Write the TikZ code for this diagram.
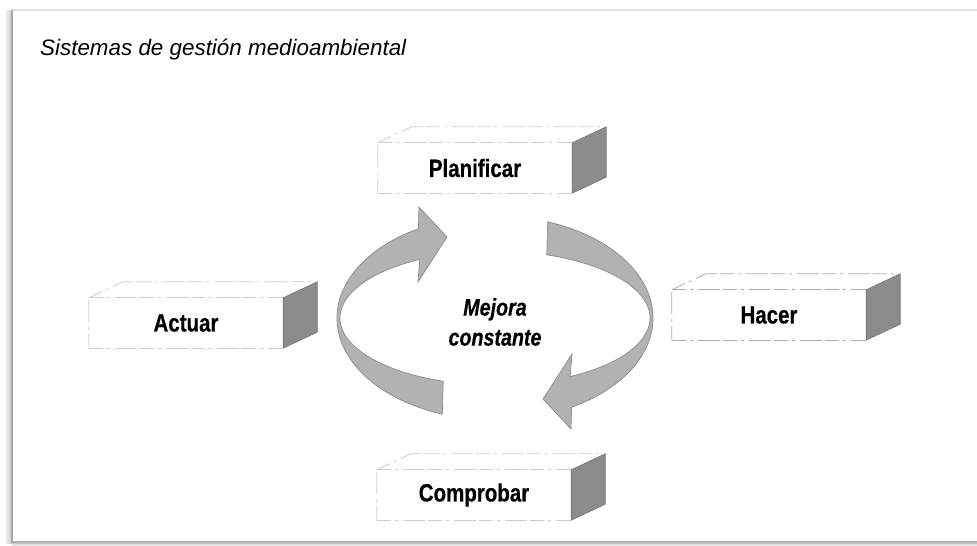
\documentclass[tikz,border=0pt]{standalone}
\usepackage{fontspec}
\newfontfamily\titlefont{Liberation Sans}
\newfontfamily\labelfont[FakeStretch=0.82,FakeBold=0.5]{Liberation Sans}
\begin{document}
\begin{tikzpicture}[x=1pt,y=-1pt,
  stepbox/.style={minimum width=194pt, minimum height=50pt, inner sep=0pt,
    font=\labelfont\bfseries\fontsize{25}{28}\selectfont},
  boxedge/.style={draw=gray!40, line width=0.8pt,
    dash pattern=on 14pt off 4pt on 3pt off 5pt on 22pt off 3pt},
  sideface/.style={fill=black!45, draw=black!55, line width=0.6pt},
  cyclearrow/.style={fill=black!30, draw=black!45, line width=0.7pt}]

\useasboundingbox (0,0) rectangle (977,546);
\fill[white] (0,0) rectangle (977,546);

% page edges with soft shadow
\shade[left color=white, right color=gray!45] (4,10) rectangle (12,543);
\shade[top color=gray!45, bottom color=white] (12,543) rectangle (977,546);
\draw[gray!22, line width=1.5pt] (12,10) -- (977,10);
\draw[gray!70, line width=1.2pt] (12,10) -- (12,543);
\draw[gray!60, line width=1.5pt] (12,542) -- (977,542);

% title
\node[anchor=base west, inner sep=0pt,
  font=\titlefont\itshape\fontsize{22.4}{26}\selectfont] (title) at (40,55)
  {Sistemas de gestión medioambiental};

% the four stages
\node[stepbox] (plan) at (475,168) {Planificar};
\node[stepbox] (act)  at (186,323) {Actuar};
\node[stepbox] (hac)  at (769,315) {Hacer};
\node[stepbox] (comp) at (474,495) {Comprobar};

\foreach \n/\c in {plan/gray!40,act/gray!40,hac/gray!65,comp/gray!40}{
  \fill[sideface] (\n.north east) -- ([shift={(34,-16)}]\n.north east)
    -- ([shift={(34,-16)}]\n.south east) -- (\n.south east) -- cycle;
  \draw[boxedge, draw=\c] (\n.south west) -- (\n.north west) -- ++(34,-16) -- ++(194,0);
  \draw[boxedge, draw=\c] (\n.north west) -- (\n.north east);
  \draw[boxedge, draw=\c] (\n.south west) -- (\n.south east);
}

% cycle arrows
\begin{scope}[shift={(495,318)}]
  \path[cyclearrow] (109.5:158 and 102)
    arc[start angle=109.5, end angle=241, x radius=158, y radius=102]
    -- (-76,-111) -- (-48,-81) -- (-77,-36)
    -- (241:155 and 67)
    arc[start angle=241, end angle=109.5, x radius=155, y radius=67] -- cycle;
\end{scope}
\begin{scope}[shift={(495,318)}, rotate=180]
  \path[cyclearrow] (109.5:158 and 102)
    arc[start angle=109.5, end angle=241, x radius=158, y radius=102]
    -- (-76,-111) -- (-48,-81) -- (-77,-36)
    -- (241:155 and 67)
    arc[start angle=241, end angle=109.5, x radius=155, y radius=67] -- cycle;
\end{scope}

\node[align=center, inner sep=0pt,
  font=\labelfont\bfseries\itshape\fontsize{24}{30}\selectfont] (mejora)
  at (495,322) {Mejora\\constante};
\end{tikzpicture}
\end{document}
